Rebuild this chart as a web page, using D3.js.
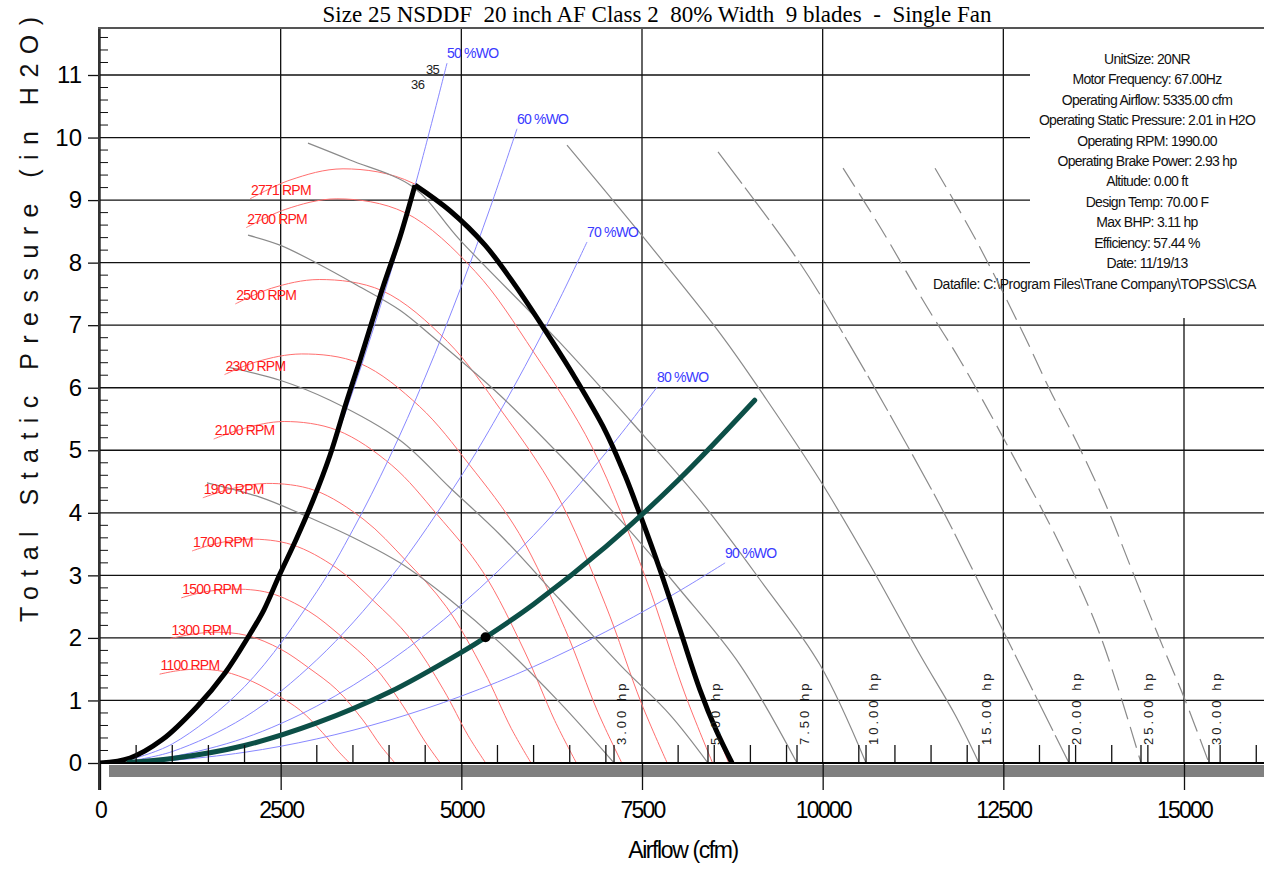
<!DOCTYPE html>
<html><head><meta charset="utf-8">
<script src="https://cdn.jsdelivr.net/npm/d3@7"></script>
<style>body{margin:0;background:#fff;} svg{display:block;font-family:Arial,"Liberation Sans",sans-serif;}</style>
</head><body><svg id="c" width="1264" height="869"></svg>
<script>
const title = "Size 25 NSDDF  20 inch AF Class 2  80% Width  9 blades  -  Single Fan";
const xTitle = "Airflow (cfm)";
const yTitle = "Total Static Pressure (in H2O)";
const xTicks = [0,2500,5000,7500,10000,12500,15000];
const yTicks = [0,1,2,3,4,5,6,7,8,9,10,11];

// constant-speed curves [cfm, in H2O]
const rpmNames = ["1100 RPM","1300 RPM","1500 RPM","1700 RPM","1900 RPM","2100 RPM","2300 RPM","2500 RPM","2700 RPM","2771 RPM"];
const rpm1100 = [[824,1.42],[1044,1.47],[1335,1.50],[1719,1.46],[2115,1.30],[2445,1.09],[2774,0.84],[3076,0.49],[3296,0.19],[3454,0]];
const rpm1300 = [[974,1.99],[1233,2.05],[1578,2.09],[2032,2.04],[2500,1.82],[2889,1.52],[3278,1.17],[3635,0.69],[3895,0.26],[4082,0]];
const rpm1500 = [[1124,2.64],[1423,2.73],[1820,2.78],[2344,2.72],[2884,2.43],[3333,2.03],[3783,1.56],[4195,0.91],[4494,0.35],[4709,0]];
const rpm1700 = [[1274,3.39],[1613,3.51],[2063,3.58],[2657,3.49],[3269,3.12],[3778,2.60],[4287,2.00],[4754,1.17],[5093,0.44],[5337,0]];
const rpm1900 = [[1423,4.24],[1803,4.38],[2306,4.47],[2970,4.36],[3653,3.89],[4222,3.25],[4791,2.50],[5313,1.47],[5692,0.55],[5965,0]];
const rpm2100 = [[1573,5.18],[1992,5.35],[2549,5.46],[3282,5.32],[4038,4.76],[4667,3.97],[5296,3.06],[5873,1.79],[6292,0.68],[6593,0]];
const rpm2300 = [[1723,6.21],[2182,6.42],[2791,6.54],[3595,6.39],[4422,5.70],[5111,4.77],[5800,3.67],[6432,2.15],[6891,0.81],[7221,0]];
const rpm2500 = [[1873,7.34],[2372,7.59],[3034,7.73],[3907,7.55],[4807,6.74],[5556,5.63],[6305,4.33],[6991,2.54],[7490,0.96],[7849,0]];
const rpm2700 = [[2023,8.56],[2562,8.85],[3277,9.02],[4220,8.80],[5191,7.86],[6000,6.57],[6809,5.05],[7550,2.96],[8089,1.12],[8477,0]];
const rpm2771 = [[2076,9.02],[2629,9.32],[3363,9.50],[4331,9.27],[5328,8.28],[6158,6.92],[6988,5.32],[7749,3.12],[8302,1.18],[8700,0]];

// system lines (% wide open)
const woNames = ["50 %WO","60 %WO","70 %WO","80 %WO","90 %WO"];
const wo50 = [[400,0.078],[1000,0.485],[1500,1.09],[2000,1.94],[2500,3.03],[3000,4.37],[3500,5.95],[4000,7.76],[4400,9.40],[4802,11.19]];
const wo60 = [[400,0.049],[1000,0.305],[2000,1.22],[3000,2.74],[3500,3.73],[4000,4.87],[4500,6.17],[5000,7.62],[5400,8.88],[5770,10.14]];
const wo70 = [[400,0.029],[1000,0.183],[2000,0.73],[3000,1.65],[4000,2.93],[5000,4.59],[5500,5.55],[6000,6.60],[6400,7.51],[6739,8.33]];
const wo80 = [[400,0.016],[1000,0.101],[2000,0.40],[3000,0.91],[4000,1.62],[5000,2.53],[6000,3.64],[7000,4.96],[7708,6.01]];
const wo90 = [[400,0.007],[1000,0.043],[2000,0.171],[3000,0.385],[4000,0.684],[5000,1.07],[6000,1.54],[7000,2.10],[8000,2.74],[8650,3.20]];

// brake horsepower lines
const hpNames = ["3.00 hp","5.00 hp","7.50 hp","10.00 hp","15.00 hp","20.00 hp","25.00 hp","30.00 hp"];
const hp3 = [[1481,4.48],[2214,4.25],[2906,3.92],[3598,3.55],[4151,3.20],[4843,2.61],[5535,1.92],[6366,0.96],[7113,0]];
const hp5 = [[1771,6.33],[2491,6.12],[3183,5.80],[4151,5.16],[4843,4.40],[5535,3.65],[6366,2.61],[7196,1.57],[7888,0.77],[8413,0]];
const hp7_5 = [[2048,8.44],[2491,8.28],[3003,7.99],[3556,7.64],[4151,7.24],[4608,6.81],[5535,5.88],[6366,4.92],[7196,3.89],[8026,2.77],[8856,1.57],[9645,0]];
const hp10 = [[2878,9.91],[3460,9.64],[4331,9.21],[4982,8.36],[6365,6.72],[7334,5.48],[8303,4.20],[9133,2.93],[9963,1.57],[10600,0]];
const hp15 = [[6462,9.88],[7473,8.47],[8580,6.87],[9230,5.80],[9963,4.52],[10655,3.17],[11347,1.73],[11832,0.77],[12163,0]];
const hp20 = [[8552,9.77],[9687,7.99],[10337,6.76],[10974,5.48],[11624,4.12],[12247,2.69],[12869,1.25],[13409,0]];
const hp25 = [[10282,9.51],[10794,8.57],[11444,7.29],[11901,6.44],[12593,5.00],[13284,3.49],[13838,2.05],[14405,0]];
const hp30 = [[11555,9.51],[12136,8.33],[12800,6.81],[13146,5.96],[13520,5.12],[13907,4.16],[14295,3.04],[14668,1.97],[15014,1.01],[15346,0]];
const hpDash = ["none","none","none","none","none","40,5","22,8","22,8"];

// fan envelope and operating system curve
const envelopeLeft = [[0,0],[415,0.08],[858,0.37],[1342,0.90],[1730,1.44],[2048,2.01],[2269,2.45],[2477,2.99],[2712,3.57],[2948,4.20],[3183,4.92],[3418,5.80],[3598,6.44],[3916,7.61],[4151,8.41],[4359,9.24]];
const envelopeRight = [[4359,9.24],[4843,8.83],[5328,8.28],[5743,7.64],[6158,6.92],[6573,6.16],[6988,5.32],[7265,4.60],[7473,3.97],[7749,3.09],[8026,2.13],[8302,1.17],[8524,0.53],[8746,0]];
const systemCurve = [[400,0.011],[1000,0.071],[2000,0.28],[3000,0.64],[4000,1.13],[5000,1.77],[5335,2.01],[6000,2.54],[7000,3.46],[8000,4.52],[9060,5.80]];
const operatingPoint = [5335,2.01];

const extraLabels = [["35",4511,11.02],["36",4304,10.78]];
const infoLines = ["UnitSize: 20NR","Motor Frequency: 67.00Hz","Operating Airflow: 5335.00 cfm","Operating Static Pressure: 2.01 in H2O","Operating RPM: 1990.00","Operating Brake Power: 2.93 hp","Altitude: 0.00 ft","Design Temp: 70.00 F","Max BHP: 3.11 hp","Efficiency: 57.44 %","Date: 11/19/13"];
const datafileLine = "Datafile: C:\\Program Files\\Trane Company\\TOPSS\\CSA";

const W = 1264, H = 869;
const x = d3.scaleLinear().domain([0,15000]).range([100,1184]);
const y = d3.scaleLinear().domain([0,11]).range([763,75]);
const xMax = x.invert(W), yMax = y.invert(28);
const svg = d3.select("#c");
const line = d3.line().x(d=>x(d[0])).y(d=>y(d[1])).curve(d3.curveCatmullRom.alpha(0.5));

svg.append("defs").append("clipPath").attr("id","pc").append("rect")
  .attr("x",x(0)).attr("y",y(yMax)).attr("width",W-x(0)).attr("height",y(0)-y(yMax));

// title
svg.append("text").attr("x",657).attr("y",22).attr("text-anchor","middle")
  .style("font-family","'Liberation Serif','Times New Roman',serif").style("font-size","23px").style("white-space","pre").attr("xml:space","preserve").text(title);

// grid
const g = svg.append("g");
g.selectAll(".hg").data(yTicks).join("line").attr("x1",x(0)).attr("x2",W).attr("y1",d=>y(d)).attr("y2",d=>y(d)).attr("stroke","#111").attr("stroke-width",1.3);
g.selectAll(".vg").data(xTicks).join("line").attr("x1",d=>x(d)).attr("x2",d=>x(d)).attr("y1",y(yMax)).attr("y2",y(0)).attr("stroke","#111").attr("stroke-width",1.3);

// info box
svg.append("rect").attr("x",1030).attr("y",29).attr("width",W-1030).attr("height",289).attr("fill","#fff");
svg.append("g").selectAll("text").data(infoLines).join("text")
  .attr("x",1147).attr("y",(d,i)=>64+i*20.4).attr("text-anchor","middle")
  .style("font-size","14px").style("letter-spacing","-0.7px").attr("fill","#111").text(d=>d);
svg.append("text").attr("x",933).attr("y",289).style("font-size","14px").style("letter-spacing","-0.5px").attr("fill","#111").text(datafileLine);

const plot = svg.append("g").attr("clip-path","url(#pc)");
const rpmCurves = [rpm1100,rpm1300,rpm1500,rpm1700,rpm1900,rpm2100,rpm2300,rpm2500,rpm2700,rpm2771];
plot.selectAll(".rpm").data(rpmCurves).join("path").attr("d",line).attr("fill","none").attr("stroke","#ff6f6f").attr("stroke-width",1);
const woCurves = [wo50,wo60,wo70,wo80,wo90];
plot.selectAll(".wo").data(woCurves).join("path").attr("d",line).attr("fill","none").attr("stroke","#8888ff").attr("stroke-width",1);
const hpCurves = [hp3,hp5,hp7_5,hp10,hp15,hp20,hp25,hp30];
plot.selectAll(".hp").data(hpCurves).join("path").attr("d",line).attr("fill","none").attr("stroke","#8a8a8a").attr("stroke-width",1.2)
  .attr("stroke-dasharray",(d,i)=>hpDash[i]);
plot.selectAll(".env").data([envelopeLeft,envelopeRight]).join("path").attr("d",line).attr("fill","none").attr("stroke","#000").attr("stroke-width",5).attr("stroke-linejoin","round");
plot.append("path").datum(systemCurve).attr("d",line).attr("fill","none").attr("stroke","#0c4f47").attr("stroke-width",5).attr("stroke-linecap","round");
plot.append("circle").attr("cx",x(operatingPoint[0])).attr("cy",y(operatingPoint[1])).attr("r",5).attr("fill","#000");

// labels
svg.selectAll(".rl").data(rpmCurves).join("text").attr("x",d=>x(d[0][0])+1).attr("y",d=>y(d[0][1])-4)
  .style("font-size","14px").style("letter-spacing","-0.8px").attr("fill","#ff1a1a").text((d,i)=>rpmNames[i]);
svg.selectAll(".wl").data(woCurves).join("text").attr("x",d=>x(d[d.length-1][0])).attr("y",d=>y(d[d.length-1][1])-5)
  .style("font-size","14px").style("letter-spacing","-0.8px").attr("fill","#3a3aff").text((d,i)=>woNames[i]);
svg.selectAll(".hl").data(hpCurves).join("text")
  .attr("transform",d=>`translate(${x(d[d.length-1][0])+12},745) rotate(-90)`)
  .style("font-size","13px").style("letter-spacing","3px").attr("fill","#222").text((d,i)=>hpNames[i]);
svg.selectAll(".el").data(extraLabels).join("text").attr("x",d=>x(d[1])).attr("y",d=>y(d[2]))
  .style("font-size","13px").style("letter-spacing","-0.6px").attr("fill","#222").text(d=>d[0]);

// bottom bar and axes
svg.append("rect").attr("x",109).attr("y",765).attr("width",W-109).attr("height",12).attr("fill","#808080");
const xa = svg.append("g").attr("transform",`translate(0,${y(0)})`)
  .call(d3.axisBottom(x).tickValues(xTicks).tickSize(27).tickPadding(12).tickFormat(d3.format("d")));
xa.select(".domain").remove();
xa.selectAll("line").attr("stroke","#111").attr("stroke-width",1.3);
xa.selectAll("text").style("font-size","23px").style("letter-spacing","-1.8px").attr("fill","#000").style("font-family","Arial,'Liberation Sans',sans-serif");
const minorX = d3.range(500,xMax,500).filter(v=>v%2500!==0).concat(hpCurves.map(c=>c[c.length-1][0]));
svg.selectAll(".mx").data(minorX).join("line").attr("x1",d=>x(d)).attr("x2",d=>x(d)).attr("y1",745).attr("y2",y(0)).attr("stroke","#111").attr("stroke-width",1.3);
svg.append("line").attr("x1",98).attr("x2",W).attr("y1",y(0)).attr("y2",y(0)).attr("stroke","#000").attr("stroke-width",2);

const ya = svg.append("g").attr("transform",`translate(${x(0)},0)`)
  .call(d3.axisLeft(y).tickValues(yTicks).tickSize(12).tickPadding(6));
ya.select(".domain").remove();
ya.selectAll("line").attr("stroke","#111").attr("stroke-width",1.3);
ya.selectAll("text").style("font-size","24px").attr("fill","#000").style("font-family","Arial,'Liberation Sans',sans-serif");
const minorY = d3.range(0.2,yMax,0.2).filter(v=>Math.abs(v-Math.round(v))>0.01);
svg.selectAll(".my").data(minorY).join("line").attr("x1",x(0)).attr("x2",x(0)+8).attr("y1",d=>y(d)).attr("y2",d=>y(d)).attr("stroke","#111");
svg.append("line").attr("x1",99).attr("x2",99).attr("y1",28).attr("y2",790).attr("stroke","#333").attr("stroke-width",2);
svg.append("line").attr("x1",98).attr("x2",W).attr("y1",28).attr("y2",28).attr("stroke","#555").attr("stroke-width",2);

// axis titles
svg.append("text").attr("x",683).attr("y",858).attr("text-anchor","middle").style("font-size","23px").style("letter-spacing","-1.4px").text(xTitle);
svg.append("text").attr("transform","translate(38,622) rotate(-90)").attr("textLength",605).attr("lengthAdjust","spacing")
  .style("font-size","25px").attr("fill","#111").text(yTitle);
</script></body></html>
